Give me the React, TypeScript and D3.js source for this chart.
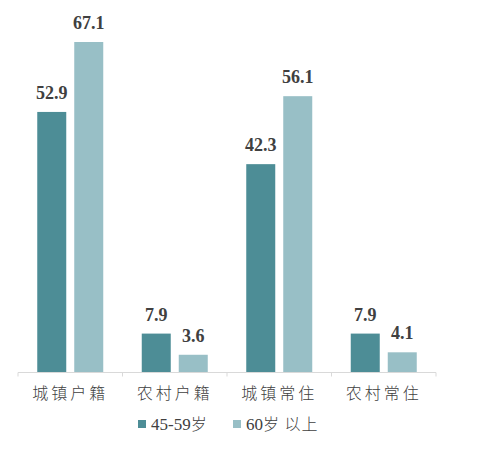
import React from "react";
import * as d3 from "d3";

const categories = ["城镇户籍", "农村户籍", "城镇常住", "农村常住"];
const seriesNames = ["45-59岁", "60岁 以上"];
const series1 = [52.9, 7.9, 42.3, 7.9];
const series2 = [67.1, 3.6, 56.1, 4.1];

const colors = ["#4D8D96", "#98BFC6"];

export default function App() {
  const width = 501;
  const height = 454;
  const x0 = 18;
  const x1 = 436;
  const baseY = 372.5;

  const x = d3.scaleBand<string>().domain(categories).range([x0, x1]).paddingInner(0).paddingOuter(0);
  const y = d3.scaleLinear().domain([0, 67.1]).range([baseY, 42]);
  const barW = 29;
  const gap = 8;

  const data = [series1, series2];

  return (
    <svg width={width} height={height} style={{ position: "absolute", left: 0, top: 0, background: "#fff" }}>
      {categories.map((c, i) => {
        const cx = (x(c) as number) + x.bandwidth() / 2;
        return (
          <g key={c}>
            {data.map((s, k) => {
              const bx = k === 0 ? cx - gap / 2 - barW : cx + gap / 2;
              const top = y(s[i]);
              return (
                <g key={k}>
                  <rect x={bx} y={top} width={barW} height={baseY - top} fill={colors[k]} />
                  <text
                    x={bx + barW / 2}
                    y={top - 13}
                    textAnchor="middle"
                    fontFamily="'Liberation Serif', 'Times New Roman', serif"
                    fontWeight="bold"
                    fontSize={18}
                    fill="#404040"
                  >
                    {s[i].toFixed(1)}
                  </text>
                </g>
              );
            })}
            <text
              x={cx}
              y={399}
              textAnchor="middle"
              fontFamily="'Noto Sans CJK SC', sans-serif"
              fontWeight={300}
              fontSize={16}
              letterSpacing={3}
              fill="#404040"
            >
              {c}
            </text>
          </g>
        );
      })}
      <line x1={x0} x2={x1} y1={baseY} y2={baseY} stroke="#d9d9d9" strokeWidth={1} />
      {[...categories.map((c) => x(c) as number), x1].map((t, i) => (
        <line key={i} x1={t} x2={t} y1={baseY} y2={baseY + 4} stroke="#d9d9d9" strokeWidth={1} />
      ))}
      <g>
        <rect x={138} y={420} width={8} height={8} fill={colors[0]} />
        <text x={151} y={430} fontFamily="'Liberation Serif', serif" fontSize={17} fill="#404040">
          <tspan>45-59</tspan>
          <tspan fontFamily="'Noto Sans CJK SC', sans-serif" fontWeight={300} fontSize={16}>岁</tspan>
        </text>
        <rect x={233} y={420} width={8} height={8} fill={colors[1]} />
        <text x={246} y={430} fontFamily="'Liberation Serif', serif" fontSize={17} fill="#404040">
          <tspan>60</tspan>
          <tspan fontFamily="'Noto Sans CJK SC', sans-serif" fontWeight={300} fontSize={16} letterSpacing={1}>岁 以上</tspan>
        </text>
      </g>
    </svg>
  );
}
